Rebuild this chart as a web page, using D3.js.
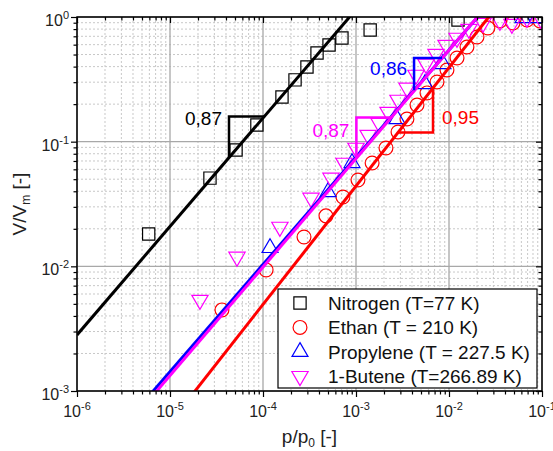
<!DOCTYPE html>
<html>
<head>
<meta charset="utf-8">
<script src="https://cdn.jsdelivr.net/npm/d3@7"></script>
<style>
  body { margin: 0; background: #fff; }
  svg { display: block; font-family: Arial, "Liberation Sans", sans-serif; }
</style>
</head>
<body>
<svg id="chart" width="553" height="451"></svg>
<script>
const xMajor = [1e-6, 1e-5, 1e-4, 1e-3, 1e-2, 1e-1]
const yMajor = [1e-3, 1e-2, 1e-1, 1]

const names = ['Nitrogen (T=77 K)', 'Ethan (T = 210 K)', 'Propylene (T = 227.5 K)', '1-Butene (T=266.89 K)']

const nitrogenX = [5.9e-6, 2.69e-5, 5.13e-5, 8.6e-5, 1.6e-4, 2.21e-4, 2.97e-4, 3.81e-4, 5.13e-4, 7.06e-4, 1.42e-3, 1.25e-2]
const nitrogenY = [0.0182, 0.051, 0.0858, 0.136, 0.228, 0.313, 0.397, 0.514, 0.596, 0.679, 0.787, 0.946]

const ethanX = [3.62e-5, 1.08e-4, 2.76e-4, 4.75e-4, 7.24e-4, 1.05e-3, 1.49e-3, 2.10e-3, 2.83e-3, 3.53e-3, 4.53e-3,
  5.80e-3, 7.43e-3, 9.51e-3, 1.22e-2, 1.56e-2, 2.00e-2, 2.62e-2, 3.53e-2, 4.88e-2, 6.90e-2, 9.51e-2]
const ethanY = [0.00447, 0.00936, 0.0172, 0.0254, 0.036, 0.0493, 0.0675, 0.089, 0.1196, 0.152, 0.197,
  0.246, 0.301, 0.376, 0.469, 0.575, 0.691, 0.816, 0.929, 0.895, 0.946, 0.929]

const propyleneX = [1.19e-4, 5.0e-4, 9.06e-4, 2.76e-3, 5.52e-3, 8.61e-3, 6.25e-2, 8.83e-2]
const propyleneY = [0.01405, 0.0395, 0.0675, 0.152, 0.29, 0.42, 0.982, 0.982]

const buteneX = [2.10e-5, 5.25e-5, 1.52e-4, 3.28e-4, 5.38e-4, 7.43e-4, 1.0e-3, 1.35e-3, 1.77e-3, 2.21e-3, 2.83e-3, 3.53e-3,
  4.42e-3, 5.66e-3, 7.25e-3, 9.29e-3, 1.22e-2, 1.64e-2, 2.32e-2, 3.53e-2, 4.75e-2, 6.90e-2, 9.75e-2]
const buteneY = [0.00537, 0.0119, 0.0207, 0.0354, 0.0512, 0.0675, 0.089, 0.113, 0.141, 0.173, 0.216, 0.27,
  0.343, 0.42, 0.505, 0.596, 0.679, 0.801, 0.895, 0.929, 0.879, 0.982, 0.964]

// log10(V/Vm) = intercept + slope * log10(p/p0)
const fitSlopes = [0.87, 0.95, 0.86, 0.87]
const fitIntercepts = [2.67, 1.494, 1.455, 1.474]
const slopeLabels = ['0,87', '0,95', '0,86', '0,87']
const triX1 = [4.31e-5, 2.83e-3, 4.21e-3, 1.01e-3]
const triX2 = [1.03e-4, 6.73e-3, 8.43e-3, 2.4e-3]

const colors = ['#000000', '#ff0000', '#0000ff', '#ff00ff']
const symbols = [
  { type: d3.symbolSquare, size: 150, rot: 0 },
  { type: d3.symbolCircle, size: 150, rot: 0 },
  { type: d3.symbolTriangle, size: 110, rot: 0 },
  { type: d3.symbolTriangle, size: 115, rot: 180 }
]
const series = [
  d3.zip(nitrogenX, nitrogenY),
  d3.zip(ethanX, ethanY),
  d3.zip(propyleneX, propyleneY),
  d3.zip(buteneX, buteneY)
]

const pL = 77, pR = 542, pT = 17, pB = 391

const svg = d3.select('#chart')
const x = d3.scaleLog().domain([1e-6, 1e-1]).range([pL, pR])
const y = d3.scaleLog().domain([1e-3, 1]).range([pB, pT])

const isMajor = v => Math.abs(Math.log10(v) - Math.round(Math.log10(v))) < 1e-6
const xMinor = x.ticks().filter(v => !isMajor(v))
const yMinor = y.ticks().filter(v => !isMajor(v))

svg.append('defs').append('clipPath').attr('id', 'plot')
  .append('rect').attr('x', pL).attr('y', pT).attr('width', pR - pL).attr('height', pB - pT)

// grid
const grid = svg.append('g')
grid.selectAll('.gx').data(xMinor).enter().append('line')
  .attr('x1', d => x(d)).attr('x2', d => x(d)).attr('y1', pT).attr('y2', pB)
  .attr('stroke', '#c8c8c8').attr('stroke-dasharray', '2,2')
grid.selectAll('.gy').data(yMinor).enter().append('line')
  .attr('x1', pL).attr('x2', pR).attr('y1', d => y(d)).attr('y2', d => y(d))
  .attr('stroke', '#c8c8c8').attr('stroke-dasharray', '2,2')
grid.selectAll('.gX').data(xMajor).enter().append('line')
  .attr('x1', d => x(d)).attr('x2', d => x(d)).attr('y1', pT).attr('y2', pB)
  .attr('stroke', '#a8a8a8').attr('stroke-width', 1.3)
grid.selectAll('.gY').data(yMajor).enter().append('line')
  .attr('x1', pL).attr('x2', pR).attr('y1', d => y(d)).attr('y2', d => y(d))
  .attr('stroke', '#a8a8a8').attr('stroke-width', 1.3)

const plot = svg.append('g').attr('clip-path', 'url(#plot)')

// markers
series.forEach((pts, i) => {
  const s = symbols[i]
  plot.append('g').selectAll('path').data(pts).enter().append('path')
    .attr('d', d3.symbol().type(s.type).size(s.size))
    .attr('transform', d => 'translate(' + x(d[0]) + ',' + y(d[1]) + ') rotate(' + s.rot + ')')
    .attr('fill', 'none').attr('stroke', colors[i]).attr('stroke-width', 1.2)
})

// fit lines
const fit = (i, v) => Math.pow(10, fitIntercepts[i] + fitSlopes[i] * Math.log10(v))
const line = d3.line().x(d => x(d[0])).y(d => y(d[1]))
fitSlopes.forEach((b, i) => {
  const xs = [1e-6, 1e-1]
  plot.append('path')
    .attr('d', line(xs.map(v => [v, fit(i, v)])))
    .attr('fill', 'none').attr('stroke', colors[i]).attr('stroke-width', 3)
})

// slope triangles
fitSlopes.forEach((b, i) => {
  const x1 = triX1[i], x2 = triX2[i]
  let pts
  if (i === 1) pts = [[x1, fit(i, x1)], [x2, fit(i, x1)], [x2, fit(i, x2)]]
  else pts = [[x1, fit(i, x1)], [x1, fit(i, x2)], [x2, fit(i, x2)]]
  svg.append('path').attr('d', line(pts))
    .attr('fill', 'none').attr('stroke', colors[i]).attr('stroke-width', 2.5)

  const t = svg.append('text').attr('font-size', 19).attr('fill', colors[i]).text(slopeLabels[i])
  if (i === 1) {
    t.attr('x', x(x2) + 9).attr('y', y(fit(i, x1)) - 9)
  } else {
    const dy = [8, 0, 17, 20][i]
    t.attr('x', x(x1) - 7).attr('y', y(fit(i, x2)) + dy).attr('text-anchor', 'end')
  }
})

// axes
const tickStyle = g => {
  g.select('.domain').remove()
  g.selectAll('line').attr('stroke', '#000').attr('stroke-width', 1.2)
}
svg.append('g').attr('transform', 'translate(0,' + pB + ')')
  .call(d3.axisBottom(x).tickValues(xMajor).tickSize(6).tickFormat('')).call(tickStyle)
svg.append('g').attr('transform', 'translate(0,' + pB + ')')
  .call(d3.axisBottom(x).tickValues(xMinor).tickSize(3.5).tickFormat('')).call(tickStyle)
svg.append('g').attr('transform', 'translate(0,' + pT + ')')
  .call(d3.axisTop(x).tickValues(xMajor).tickSize(-6).tickFormat('')).call(tickStyle)
svg.append('g').attr('transform', 'translate(0,' + pT + ')')
  .call(d3.axisTop(x).tickValues(xMinor).tickSize(-3.5).tickFormat('')).call(tickStyle)
svg.append('g').attr('transform', 'translate(' + pL + ',0)')
  .call(d3.axisLeft(y).tickValues(yMajor).tickSize(6).tickFormat('')).call(tickStyle)
svg.append('g').attr('transform', 'translate(' + pL + ',0)')
  .call(d3.axisLeft(y).tickValues(yMinor).tickSize(3.5).tickFormat('')).call(tickStyle)
svg.append('g').attr('transform', 'translate(' + pR + ',0)')
  .call(d3.axisRight(y).tickValues(yMajor).tickSize(-6).tickFormat('')).call(tickStyle)
svg.append('g').attr('transform', 'translate(' + pR + ',0)')
  .call(d3.axisRight(y).tickValues(yMinor).tickSize(-3.5).tickFormat('')).call(tickStyle)

svg.append('rect').attr('x', pL).attr('y', pT).attr('width', pR - pL).attr('height', pB - pT)
  .attr('fill', 'none').attr('stroke', '#000').attr('stroke-width', 1.5)

const powLabel = (sel, d) => {
  sel.append('tspan').text('10')
  sel.append('tspan').attr('font-size', 11).attr('dy', -7).text(Math.round(Math.log10(d)))
}
svg.append('g').selectAll('text').data(xMajor).enter().append('text')
  .attr('x', d => x(d)).attr('y', pB + 26).attr('text-anchor', 'middle')
  .attr('font-size', 16).attr('fill', '#222')
  .each(function (d) { powLabel(d3.select(this), d) })
svg.append('g').selectAll('text').data(yMajor).enter().append('text')
  .attr('x', pL - 8).attr('y', d => y(d) + 9).attr('text-anchor', 'end')
  .attr('font-size', 16).attr('fill', '#222')
  .each(function (d) { powLabel(d3.select(this), d) })

// axis titles
const xt = svg.append('text').attr('x', (pL + pR) / 2).attr('y', 443)
  .attr('text-anchor', 'middle').attr('font-size', 19).attr('fill', '#222')
xt.append('tspan').text('p/p')
xt.append('tspan').attr('font-size', 12).attr('dy', 4).text('0')
xt.append('tspan').attr('dy', -4).text(' [-]')

const yt = svg.append('text').attr('transform', 'translate(26,' + (pT + pB) / 2 + ') rotate(-90)')
  .attr('text-anchor', 'middle').attr('font-size', 19).attr('fill', '#222')
yt.append('tspan').text('V/V')
yt.append('tspan').attr('font-size', 12).attr('dy', 4).text('m')
yt.append('tspan').attr('dy', -4).text(' [-]')

// legend
const lg = svg.append('g')
lg.append('rect').attr('x', 278).attr('y', 289).attr('width', 259).attr('height', 99)
  .attr('fill', '#fff').attr('stroke', '#000').attr('stroke-width', 1.2)
names.forEach((n, i) => {
  const cy = 303 + i * 24.4
  const s = symbols[i]
  lg.append('path').attr('d', d3.symbol().type(s.type).size(s.size)())
    .attr('transform', 'translate(300,' + cy + ') rotate(' + s.rot + ')')
    .attr('fill', 'none').attr('stroke', colors[i]).attr('stroke-width', 1.2)
  lg.append('text').attr('x', 328).attr('y', cy + 7).attr('font-size', 19).attr('fill', '#111').text(n)
})
</script>
</body>
</html>
